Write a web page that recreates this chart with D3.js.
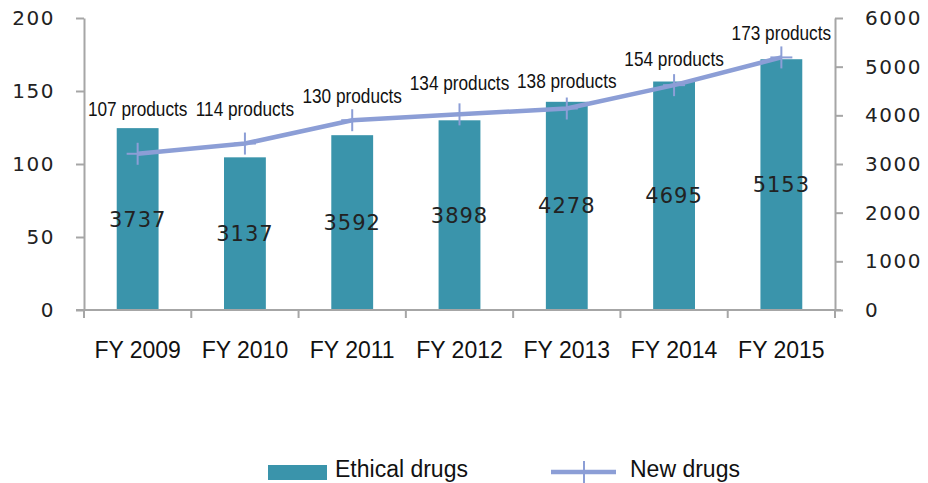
<!DOCTYPE html>
<html>
<head>
<meta charset="utf-8">
<script src="https://cdn.jsdelivr.net/npm/d3@7"></script>
<style>
  body { margin: 0; background: #fff; }
  svg { display: block; }
</style>
</head>
<body>
<script>
// categories and values
var years = ["FY 2009", "FY 2010", "FY 2011", "FY 2012", "FY 2013", "FY 2014", "FY 2015"];
var ethicalDrugs = [3737, 3137, 3592, 3898, 4278, 4695, 5153];
var newDrugs = [107, 114, 130, 134, 138, 154, 173];
var leftTicks = [0, 50, 100, 150, 200];
var rightTicks = [0, 1000, 2000, 3000, 4000, 5000, 6000];

// how far each "products" label sits above its point (layout only)
var labelLift = [45, 35, 25, 32, 28, 27, 25];

var fullwidth = 928, fullheight = 483;
var plot = {left: 84, right: 835, top: 18, bottom: 310};

var barColor = "#3a94ab";
var lineColor = "#8c9ed6";
var axisColor = "#a6a6a6";

var svg = d3.select("body").append("svg")
  .attr("width", fullwidth)
  .attr("height", fullheight);

// scales
var x = d3.scaleBand()
  .domain(years)
  .range([plot.left, plot.right])
  .paddingInner(0.61)
  .paddingOuter(0.305);

var yLeft = d3.scaleLinear().domain([0, 200]).range([plot.bottom, plot.top]);
var yRight = d3.scaleLinear().domain([0, 6000]).range([plot.bottom, plot.top]);

function cx(d) { return x(d) + x.bandwidth() / 2; }

// bars (right axis)
svg.selectAll("rect.bar")
  .data(ethicalDrugs)
  .enter().append("rect")
  .attr("class", "bar")
  .attr("x", function(d, i) { return x(years[i]); })
  .attr("y", function(d) { return yRight(d); })
  .attr("width", x.bandwidth())
  .attr("height", function(d) { return yRight(0) - yRight(d); })
  .style("fill", barColor);

// bar values in the middle of each bar
svg.selectAll("text.barval")
  .data(ethicalDrugs)
  .enter().append("text")
  .attr("class", "barval")
  .attr("x", function(d, i) { return cx(years[i]); })
  .attr("y", function(d) { return (yRight(d) + yRight(0)) / 2; })
  .attr("dy", "0.36em")
  .attr("text-anchor", "middle")
  .style("font-family", "'DejaVu Sans', Verdana, sans-serif")
  .style("font-size", "21px")
  .style("letter-spacing", "1px")
  .style("fill", "#222")
  .text(function(d) { return d; });

// left axis
var leftAxis = svg.append("g")
  .attr("transform", "translate(" + plot.left + ",0)")
  .call(d3.axisLeft(yLeft).tickValues(leftTicks).tickFormat(d3.format("d"))
    .tickSize(8).tickSizeOuter(0).tickPadding(21));

// right axis
var rightAxis = svg.append("g")
  .attr("transform", "translate(" + plot.right + ",0)")
  .call(d3.axisRight(yRight).tickValues(rightTicks).tickFormat(d3.format("d"))
    .tickSize(8).tickSizeOuter(0).tickPadding(22));

[leftAxis, rightAxis].forEach(function(g) {
  g.selectAll("path, line").attr("stroke", axisColor).attr("stroke-width", 2);
  g.selectAll("text")
    .style("font-family", "'DejaVu Sans', Verdana, sans-serif")
    .style("font-size", "20px")
    .style("letter-spacing", "1.5px")
    .style("fill", "#222");
});

// bottom axis: baseline, ticks between categories, labels under bars
var bottom = svg.append("g");
bottom.append("line")
  .attr("x1", plot.left - 8).attr("x2", plot.right + 6)
  .attr("y1", plot.bottom).attr("y2", plot.bottom)
  .attr("stroke", axisColor).attr("stroke-width", 2);

bottom.selectAll("line.tick")
  .data(d3.range(years.length + 1))
  .enter().append("line")
  .attr("class", "tick")
  .attr("x1", function(i) { return plot.left + i * x.step(); })
  .attr("x2", function(i) { return plot.left + i * x.step(); })
  .attr("y1", plot.bottom)
  .attr("y2", plot.bottom + 8)
  .attr("stroke", axisColor).attr("stroke-width", 2);

bottom.selectAll("text")
  .data(years)
  .enter().append("text")
  .attr("x", cx)
  .attr("y", 358)
  .attr("text-anchor", "middle")
  .style("font-family", "'Liberation Sans', Arial, sans-serif")
  .style("font-size", "23px")
  .style("fill", "#111")
  .text(function(d) { return d; });

// new drugs line (left axis)
var line = d3.line()
  .x(function(d, i) { return cx(years[i]); })
  .y(function(d) { return yLeft(d); });

svg.append("path")
  .datum(newDrugs)
  .attr("d", line)
  .attr("fill", "none")
  .attr("stroke", lineColor)
  .attr("stroke-width", 4.5)
  .attr("stroke-linejoin", "round");

// plus markers
var markers = svg.selectAll("g.marker")
  .data(newDrugs)
  .enter().append("g")
  .attr("class", "marker")
  .attr("transform", function(d, i) { return "translate(" + cx(years[i]) + "," + yLeft(d) + ")"; });

markers.append("line")
  .attr("x1", 0).attr("x2", 0).attr("y1", -11).attr("y2", 11)
  .attr("stroke", lineColor).attr("stroke-width", 2);
markers.append("line")
  .attr("x1", -11).attr("x2", 11).attr("y1", 0).attr("y2", 0)
  .attr("stroke", lineColor).attr("stroke-width", 2);

// "products" labels, narrow font
svg.selectAll("g.plabel")
  .data(newDrugs)
  .enter().append("g")
  .attr("class", "plabel")
  .attr("transform", function(d, i) {
    return "translate(" + cx(years[i]) + "," + (yLeft(d) - labelLift[i]) + ") scale(0.82,1)";
  })
  .append("text")
  .attr("text-anchor", "middle")
  .attr("dy", "0.36em")
  .style("font-family", "'Liberation Sans', Arial, sans-serif")
  .style("font-size", "21px")
  .style("fill", "#111")
  .text(function(d) { return d + " products"; });

// legend
var legend = svg.append("g");
legend.append("rect")
  .attr("x", 268).attr("y", 465)
  .attr("width", 59).attr("height", 15)
  .style("fill", barColor);
legend.append("text")
  .attr("x", 335).attr("y", 477)
  .style("font-family", "'Liberation Sans', Arial, sans-serif")
  .style("font-size", "23px")
  .style("fill", "#111")
  .text("Ethical drugs");

legend.append("line")
  .attr("x1", 551).attr("x2", 616).attr("y1", 472).attr("y2", 472)
  .attr("stroke", lineColor).attr("stroke-width", 4.5);
legend.append("line")
  .attr("x1", 584).attr("x2", 584).attr("y1", 461).attr("y2", 483)
  .attr("stroke", lineColor).attr("stroke-width", 2);
legend.append("text")
  .attr("x", 630).attr("y", 477)
  .style("font-family", "'Liberation Sans', Arial, sans-serif")
  .style("font-size", "23px")
  .style("fill", "#111")
  .text("New drugs");
</script>
</body>
</html>
